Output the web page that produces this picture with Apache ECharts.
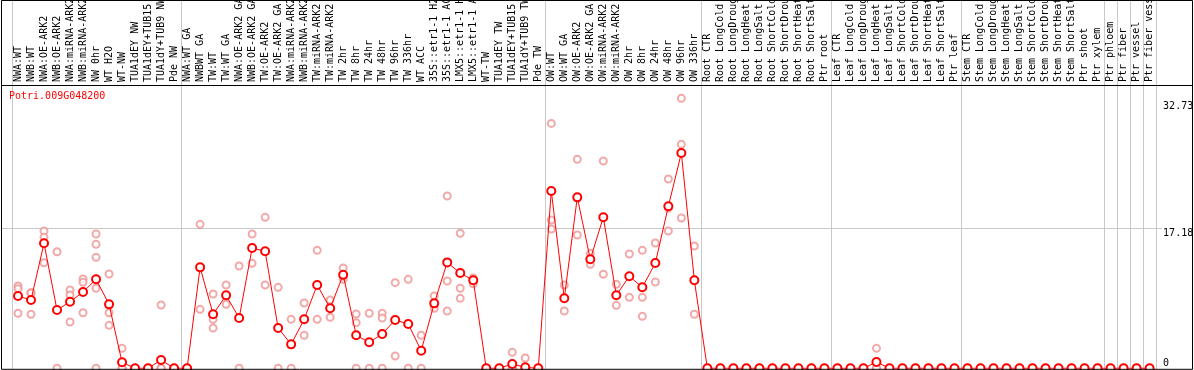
<!DOCTYPE html>
<html><head><meta charset="utf-8">
<script src="https://cdn.jsdelivr.net/npm/echarts@6/dist/echarts.min.js"></script>
<style>html,body{margin:0;padding:0;background:#fff}#c{width:1194px;height:370px}</style>
</head><body><div id="c"></div>
<script>
const geneTitle = 'Potri.009G048200';
const categories = [
  'NWA:WT','NWB:WT','NWA:OE-ARK2','NWB:OE-ARK2','NWA:miRNA-ARK2','NWB:miRNA-ARK2','NW 0hr','WT H2O','WT-NW','TUA1dEY NW','TUA1dEY+TUB15 NW','TUA1dY+TUB9 NW','Pde NW',
  'NWA:WT GA','NWBWT GA','TW:WT','TW:WT GA','NWA:OE-ARK2 GA','NWB:OE-ARK2 GA','TW:OE-ARK2','TW:OE-ARK2 GA','NWA:miRNA-ARK2','NWB:miRNA-ARK2','TW:miRNA-ARK2','TW:miRNA-ARK2',
  'TW 2hr','TW 8hr','TW 24hr','TW 48hr','TW 96hr','TW 336hr','WT ACC','35S::etr1-1 H2O','35S::etr1-1 ACC','LMX5::etr1-1 H2O','LMX5::etr1-1 ACC','WT-TW','TUA1dEY TW','TUA1dEY+TUB15 TW','TUA1dY+TUB9 TW','Pde TW',
  'OW:WT','OW:WT GA','OW:OE-ARK2','OW:OE-ARK2 GA','OW:miRNA-ARK2','OW:miRNA-ARK2','OW 2hr','OW 8hr','OW 24hr','OW 48hr','OW 96hr','OW 336hr',
  'Root CTR','Root LongCold','Root LongDrought','Root LongHeat','Root LongSalt','Root ShortCold','Root ShortDrought','Root ShortHeat','Root ShortSalt','Ptr root',
  'Leaf CTR','Leaf LongCold','Leaf LongDrought','Leaf LongHeat','Leaf LongSalt','Leaf ShortCold','Leaf ShortDrought','Leaf ShortHeat','Leaf ShortSalt','Ptr leaf',
  'Stem CTR','Stem LongCold','Stem LongDrought','Stem LongHeat','Stem LongSalt','Stem ShortCold','Stem ShortDrought','Stem ShortHeat','Stem ShortSalt','Ptr shoot',
  'Ptr xylem','Ptr phloem','Ptr fiber','Ptr vessel','Ptr fiber vessel'
];
const meanValues = [
  8.87, 8.38, 15.34, 7.15, 8.17, 9.36, 10.92, 7.85, 0.74, 0, 0, 1.02, 0,
  0, 12.39, 6.63, 8.96, 6.17, 14.76, 14.36, 4.95, 2.94, 6.01, 10.22, 7.36,
  11.49, 4.05, 3.19, 4.21, 5.93, 5.44, 2.16, 7.97, 13.0, 11.69, 10.8, 0, 0, 0.53, 0.12, 0,
  21.76, 8.59, 20.98, 13.38, 18.53, 8.96, 11.29, 9.94, 12.92, 19.88, 26.42, 10.8,
  0, 0, 0, 0, 0, 0, 0, 0, 0, 0,
  0, 0, 0, 0.77, 0, 0, 0, 0, 0, 0,
  0, 0, 0, 0, 0, 0, 0, 0, 0, 0,
  0, 0, 0, 0, 0
];
const replicateValues = [
  [10.1, 9.77, 6.75], [9.28, 9.23, 6.63], [16.85, 16.07, 12.96], [14.31, 0], [9.61, 9.0, 5.68], [10.96, 10.55, 6.82],
  [16.48, 15.21, 13.62, 9.82, 0], [11.57, 6.82, 5.27], [2.45, 0, 0], [0, 0], [0, 0], [7.77, 0, 0], [0, 0],
  [0, 0], [17.67, 7.24], [9.12, 6.01, 4.95], [10.22, 7.85], [12.55, 0], [16.48, 12.88], [18.53, 10.22], [9.94, 0],
  [6.01, 0], [8.01, 4.05], [14.48, 6.01], [8.38, 6.26], [12.31, 10.92, 11.3], [6.66, 5.6, 0], [6.75, 0], [6.75, 6.17, 0],
  [10.51, 1.51], [10.92, 0], [4.05, 0], [8.87, 7.36], [21.14, 10.71, 7.03], [16.57, 9.82, 8.59], [11.08, 10.38],
  [0, 0], [0, 0], [1.96, 0, 0], [1.26, 0], [0, 0],
  [30.06, 18.2, 17.09], [10.22, 7.03], [25.65, 16.36], [14.11, 12.76], [25.44, 11.54], [10.31, 7.73],
  [14.03, 8.71], [14.48, 8.71, 6.38], [15.38, 10.59], [23.23, 19.63, 16.85], [33.13, 27.49, 18.44], [15.01, 6.63],
  [0, 0], [0, 0], [0, 0], [0, 0], [0, 0], [0, 0], [0, 0], [0, 0], [0, 0], [0, 0],
  [0, 0], [0, 0], [0, 0], [2.45, 0, 0], [0, 0], [0, 0], [0, 0], [0, 0], [0, 0], [0, 0],
  [0, 0], [0, 0], [0, 0], [0, 0], [0, 0], [0, 0], [0, 0], [0, 0], [0, 0], [0, 0],
  [0, 0], [0, 0], [0, 0], [0, 0], [0, 0]
];
const yTickLabels = [0, 17.18, 32.73];
const gridLineValue = 17.18;
const sectionStarts = [0, 13, 41, 53, 63, 73, 84, 85, 86, 87, 88];

const MONO = 'DejaVu Sans Mono';
const chart = echarts.init(document.getElementById('c'), null, {renderer: 'canvas'});

const replicateData = [];
replicateValues.forEach((arr, i) => arr.forEach(v => replicateData.push([i, v])));

chart.setOption({
  animation: false,
  backgroundColor: '#fff',
  title: {
    text: geneTitle, left: 9, top: 91, padding: 0,
    textStyle: {color: '#ff0000', fontFamily: MONO, fontSize: 10, fontWeight: 'normal'}
  },
  grid: {left: 11.5, right: 37.9, top: 85, bottom: 1.7, containLabel: false, outerBoundsMode: 'none'},
  xAxis: {
    type: 'category', position: 'top', data: categories, boundaryGap: true,
    axisLine: {show: false}, axisTick: {show: false}, splitLine: {show: false},
    axisLabel: {rotate: 90, interval: 0, margin: 3, color: '#000', fontFamily: MONO, fontSize: 10, hideOverlap: false}
  },
  yAxis: {
    type: 'value', position: 'right', min: 0, max: 34.77,
    axisLine: {show: false}, axisTick: {show: false}, splitLine: {show: false},
    axisLabel: {
      customValues: yTickLabels, margin: 7, align: 'left', verticalAlign: 'middle',
      formatter: v => v === 0 ? '{b|0}' : '{t|' + v + '}',
      rich: {
        t: {padding: [10, 0, 0, 0], lineHeight: 12, fontFamily: MONO, fontSize: 10, color: '#000'},
        b: {padding: [0, 0, 10, 0], lineHeight: 12, fontFamily: MONO, fontSize: 10, color: '#000'}
      }
    }
  },
  series: [
    {
      type: 'scatter', data: replicateData, symbol: 'emptyCircle', symbolSize: 7,
      itemStyle: {color: '#ee9494', borderColor: '#ee9494', borderWidth: 1.2}, z: 2
    },
    {
      type: 'line', data: meanValues, symbol: 'emptyCircle', symbolSize: 8, showAllSymbol: true,
      lineStyle: {color: '#ff0000', width: 1},
      itemStyle: {color: '#ff0000', borderColor: '#ff0000', borderWidth: 1.6}, z: 3
    }
  ]
});

// decorative frame and reference lines positioned through the chart's own scales
const bw = chart.convertToPixel({xAxisIndex: 0}, 1) - chart.convertToPixel({xAxisIndex: 0}, 0);
const x0 = chart.convertToPixel({xAxisIndex: 0}, 0) - bw / 2;
const yRef = Math.round(chart.convertToPixel({yAxisIndex: 0}, gridLineValue)) + 0.5;
const gfx = [];
sectionStarts.forEach(k => {
  const x = Math.round(x0 + k * bw) + 0.5;
  gfx.push({type: 'line', shape: {x1: x, y1: 0, x2: x, y2: 369}, style: {stroke: '#c8c8c8', lineWidth: 1}, z: 0, silent: true});
});
gfx.push({type: 'line', shape: {x1: 2, y1: yRef, x2: 1162, y2: yRef}, style: {stroke: '#c8c8c8', lineWidth: 1}, z: 0, silent: true});
gfx.push({type: 'line', shape: {x1: 1.5, y1: 85.5, x2: 1192.5, y2: 85.5}, style: {stroke: '#000', lineWidth: 1}, z: 10, silent: true});
gfx.push({type: 'rect', shape: {x: 1.5, y: 0.5, width: 1191, height: 368.8}, style: {stroke: '#000', fill: null, lineWidth: 1}, z: 10, silent: true});
chart.setOption({graphic: gfx});
</script>
</body></html>
